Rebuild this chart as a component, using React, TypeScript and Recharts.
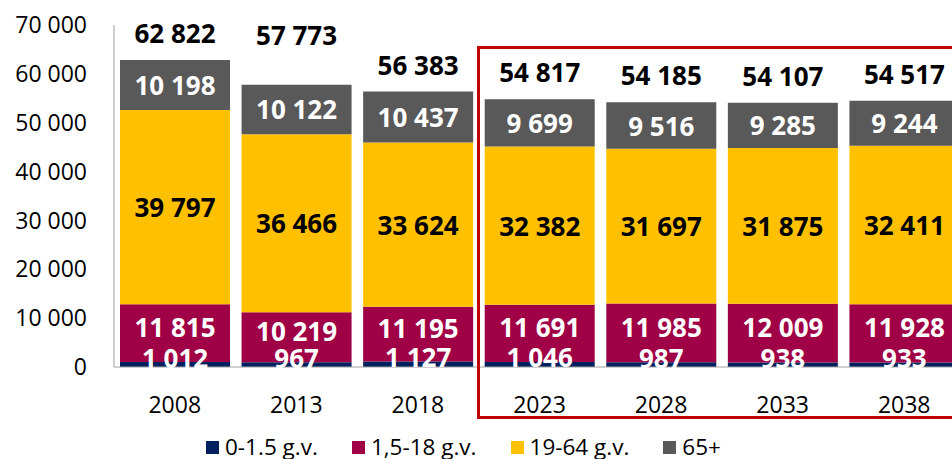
import React from 'react';
import { BarChart, Bar, XAxis, YAxis, LabelList, Legend } from 'recharts';

const years = ['2008', '2013', '2018', '2023', '2028', '2033', '2038'];
const infants = [1012, 967, 1127, 1046, 987, 938, 933];
const children = [11815, 10219, 11195, 11691, 11985, 12009, 11928];
const adults = [39797, 36466, 33624, 32382, 31697, 31875, 32411];
const seniors = [10198, 10122, 10437, 9699, 9516, 9285, 9244];
const totals = [62822, 57773, 56383, 54817, 54185, 54107, 54517];
const yTicks = [0, 10000, 20000, 30000, 40000, 50000, 60000, 70000];
const seriesNames = ['0-1.5 g.v.', '1,5-18 g.v.', '19-64 g.v.', '65+'];
const colors = ['#002060', '#A00045', '#FFC000', '#595959'];

const data = years.map((y, i) => ({
  year: y,
  infants: infants[i],
  children: children[i],
  adults: adults[i],
  seniors: seniors[i],
  total: totals[i],
}));

const FONT = '"Open Sans", "Noto Sans", sans-serif';

const fmt = (v: number | string) =>
  String(v).replace(/\B(?=(\d{3})+(?!\d))/g, '\u00a0');

const makeLabel = (color: string, dy: number) => (props: any) => {
  const { x, y, width, height, value } = props;
  return (
    <text
      x={Number(x) + Number(width) / 2}
      y={Number(y) + Number(height) / 2 + dy}
      fill={color}
      textAnchor="middle"
      dominantBaseline="central"
      fontFamily={FONT}
      fontWeight="bold"
      fontSize={26}
    >
      {fmt(value)}
    </text>
  );
};

const totalLabel = (props: any) => {
  const { x, y, width, value } = props;
  const idx = totals.indexOf(Number(value));
  const lift = years[idx] === '2013' ? 50 : 27;
  return (
    <text
      x={Number(x) + Number(width) / 2}
      y={Number(y) - lift}
      fill="#000"
      textAnchor="middle"
      dominantBaseline="central"
      fontFamily={FONT}
      fontWeight="bold"
      fontSize={26}
    >
      {fmt(value)}
    </text>
  );
};

const renderLegend = () => (
  <div
    style={{
      display: 'flex',
      gap: 34,
      height: 22,
      alignItems: 'center',
      fontFamily: FONT,
      fontSize: 22.5,
      lineHeight: '22px',
      color: '#000',
      whiteSpace: 'nowrap',
    }}
  >
    {seriesNames.map((n, i) => (
      <div key={n} style={{ display: 'flex', alignItems: 'center', height: 22 }}>
        <span
          style={{
            width: 13,
            height: 13,
            background: colors[i],
            marginRight: 6,
            display: 'inline-block',
          }}
        />
        <span style={{ display: 'inline-block', lineHeight: '22px' }}>{n}</span>
      </div>
    ))}
  </div>
);

export default function App() {
  return (
    <div
      style={{
        position: 'fixed',
        left: 0,
        top: 0,
        width: 952,
        height: 459,
        overflow: 'hidden',
        background: '#fff',
      }}
    >
      <BarChart
        width={970}
        height={459}
        data={data}
        margin={{ top: 25, right: 5, left: 0, bottom: 30 }}
      >
        <XAxis
          dataKey="year"
          tickLine={false}
          tickSize={0}
          tickMargin={30}
          height={40}
          stroke="#A0A0A0"
          tick={{ fill: '#000', fontSize: 23, fontFamily: FONT }}
        />
        <YAxis
          domain={[0, 70000]}
          ticks={yTicks}
          interval={0}
          width={114}
          tickLine={false}
          tickSize={0}
          tickMargin={27}
          stroke="#A0A0A0"
          tickFormatter={(v: number) => fmt(v)}
          tick={{ fill: '#000', fontSize: 23, fontFamily: FONT }}
        />
        <Legend
          content={renderLegend}
          verticalAlign="bottom"
          wrapperStyle={{ left: 206, top: 436, width: 'auto' }}
        />
        <Bar dataKey="infants" name={seriesNames[0]} stackId="a" fill={colors[0]} barSize={110} isAnimationActive={false}>
          <LabelList dataKey="infants" content={makeLabel('#fff', -7)} />
        </Bar>
        <Bar dataKey="children" name={seriesNames[1]} stackId="a" fill={colors[1]} barSize={110} isAnimationActive={false}>
          <LabelList dataKey="children" content={makeLabel('#fff', -6)} />
        </Bar>
        <Bar dataKey="adults" name={seriesNames[2]} stackId="a" fill={colors[2]} barSize={110} isAnimationActive={false}>
          <LabelList dataKey="adults" content={makeLabel('#000', 0)} />
        </Bar>
        <Bar dataKey="seniors" name={seriesNames[3]} stackId="a" fill={colors[3]} barSize={110} isAnimationActive={false}>
          <LabelList dataKey="seniors" content={makeLabel('#fff', 0)} />
          <LabelList dataKey="total" content={totalLabel} />
        </Bar>
      </BarChart>
      <div
        style={{
          position: 'absolute',
          left: 477,
          top: 46,
          width: 600,
          height: 373,
          border: '3px solid #C00000',
          boxSizing: 'border-box',
          pointerEvents: 'none',
        }}
      />
    </div>
  );
}
